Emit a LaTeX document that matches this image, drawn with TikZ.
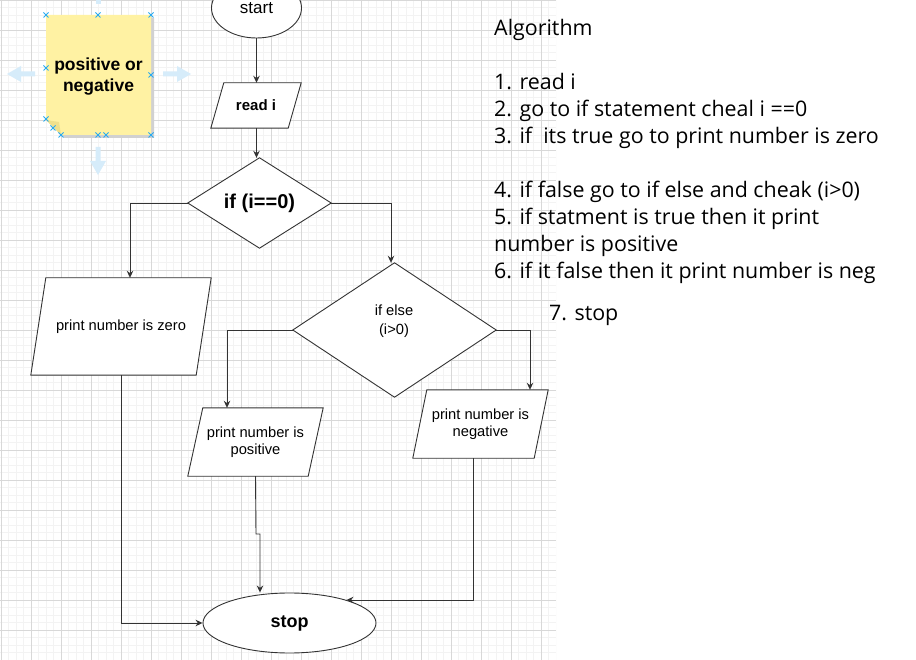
\documentclass[tikz,border=0pt]{standalone}
\usepackage{fontspec}
\setmainfont{Liberation Sans}
\newfontfamily\algfont{Open Sans}
\usetikzlibrary{shapes.geometric,arrows.meta,calc}
\pgfdeclarelayer{gridlayer}
\pgfdeclarelayer{shapelayer}
\pgfsetlayers{gridlayer,shapelayer,main}
\definecolor{gridmaj}{RGB}{216,216,216}
\definecolor{gridmin}{RGB}{243,243,243}
\definecolor{stroke}{RGB}{51,51,51}
\definecolor{notefill}{RGB}{255,242,163}
\definecolor{notefold}{RGB}{240,224,140}
\definecolor{handleblue}{RGB}{41,170,240}
\definecolor{hintblue}{RGB}{214,236,250}
\tikzset{
  box/.style={draw=none, rectangle, inner sep=0pt, align=center},
  outline/.style={draw=stroke, line width=0.9pt, fill=white},
  conn/.style={draw=stroke, line width=0.9pt, -{Stealth[length=7pt,width=6.5pt]}},
  normaltext/.style={font=\fontsize{14.7}{17.5}\selectfont},
  boldtext/.style={font=\bfseries\fontsize{18}{21}\selectfont},
  algtext/.style={anchor=base west, inner sep=0pt, font=\algfont\fontsize{21.4}{25}\selectfont},
  handlex/.style={draw=handleblue, line width=0.8pt},
  hint/.style={fill=hintblue, draw=none}
}
\begin{document}
\begin{tikzpicture}[x=1pt,y=-1pt]
\useasboundingbox (0,0) rectangle (916,660);

% background and grid
\begin{pgfonlayer}{gridlayer}
\fill[white] (0,0) rectangle (916,660);
\begin{scope}
\clip (0,0) rectangle (556,660);
\foreach \i in {0,...,75} \draw[gridmin, line width=0.8pt] ({1+7.5*\i},0) -- ({1+7.5*\i},660);
\foreach \j in {0,...,88} \draw[gridmin, line width=0.8pt] (0,{7.5*\j}) -- (556,{7.5*\j});
\foreach \i in {0,...,18} \draw[gridmaj, line width=0.8pt] ({1+30*\i},0) -- ({1+30*\i},660);
\foreach \j in {0,...,22} \draw[gridmaj, line width=0.8pt] (0,{30*\j}) -- (556,{30*\j});
\end{scope}
\end{pgfonlayer}

% sticky note
\fill[black!18] (49,18) -- (154,18) -- (154,138) -- (64,138) -- (49,123) -- cycle;
\fill[notefill] (46,15) -- (151,15) -- (151,135) -- (61,135) -- (46,120) -- cycle;
\fill[notefold] (46,120) -- (61,135) -- (59,122) -- cycle;
\node[box, font=\bfseries\fontsize{17.5}{21}\selectfont] (note) at (98.5,77) {positive or\\negative};
% selection handles
\foreach \p in {(46,15),(98,15),(151,15),(46,68),(151,75),(46,119),(53,128),(61,135),(98,135),(106,135),(151,135)}
  \draw[handlex] \p ++(-2.5,-2.5) -- ++(5,5) \p ++(-2.5,2.5) -- ++(5,-5);
% hint arrows
\fill[hint] (35,71.5) -- (21,71.5) -- (21,66) -- (7,74) -- (21,82) -- (21,76.5) -- (35,76.5) -- cycle;
\fill[hint] (163,71.5) -- (177,71.5) -- (177,66) -- (191,74) -- (177,82) -- (177,76.5) -- (163,76.5) -- cycle;
\fill[hint] (95.5,147) -- (95.5,161) -- (90,161) -- (98,175) -- (106,161) -- (100.5,161) -- (100.5,147) -- cycle;
\fill[hint] (95.5,0) rectangle (100.5,4);

% nodes
\node[draw=stroke, line width=0.9pt, fill=white, ellipse, inner sep=0pt, minimum width=90, minimum height=60, font=\fontsize{17}{20}\selectfont] (start) at (256.5,8) {start};
\node[box, minimum width=90, minimum height=45, font=\bfseries\fontsize{15}{18}\selectfont] (readi) at (256,105.5) {read i};
\node[box, minimum width=143, minimum height=90, font=\bfseries\fontsize{20}{24}\selectfont] (d1) at (259.5,203) {if (i==0)};
\node[box, minimum width=180, minimum height=97, normaltext] (pz) at (121,326.5) {print number is zero};
\node[box, minimum width=203, minimum height=134] (d2) at (394.5,330) {};
\node[box, font=\fontsize{14.7}{19}\selectfont] (d2text) at (394,321.5) {if else\\(i>0)};
\node[box, minimum width=135, minimum height=68, normaltext] (ppos) at (255.5,442) {print number is\\positive};
\node[box, minimum width=135, minimum height=68, normaltext] (pneg) at (480.5,424) {print number is\\negative};
\node[draw=stroke, line width=0.9pt, fill=white, ellipse, inner sep=0pt, minimum width=173, minimum height=60, boldtext] (stop) at (289.5,623) {stop};

% shapes behind the texts
\begin{pgfonlayer}{shapelayer}
\draw[outline] ([xshift=13]readi.north west) -- (readi.north east) -- ([xshift=-13]readi.south east) -- (readi.south west) -- cycle;
\draw[outline] (d1.north) -- (d1.east) -- (d1.south) -- (d1.west) -- cycle;
\draw[outline] ([xshift=15]pz.north west) -- (pz.north east) -- ([xshift=-15]pz.south east) -- (pz.south west) -- cycle;
\draw[outline] (d2.north) -- (d2.east) -- (d2.south) -- (d2.west) -- cycle;
\draw[outline] ([xshift=15]ppos.north west) -- (ppos.north east) -- ([xshift=-15]ppos.south east) -- (ppos.south west) -- cycle;
\draw[outline] ([xshift=14]pneg.north west) -- (pneg.north east) -- ([xshift=-14]pneg.south east) -- (pneg.south west) -- cycle;
\end{pgfonlayer}

% connectors
\coordinate (j1) at (256,534);
\coordinate (j2) at (260,534);
\draw[conn] (start.south) -- (start.south |- readi.north);
\draw[conn] ([xshift=0.5]readi.south) -- ([xshift=0.5]readi.south |- d1.north);
\draw[conn] (d1.west) -| ([xshift=9]pz.north);
\draw[conn] (d1.east) -| ([xshift=-3.5]d2.north);
\draw[conn] (d2.west) -| ([xshift=-28.5]ppos.north);
\draw[conn] (d2.east) -| ([xshift=49.5]pneg.north);
\draw[conn] (pz.south) |- (stop.west);
\draw[conn] (ppos.south) -- (j1) -- (j2) -- ([xshift=-29.5]stop.north);
\draw[conn] ([xshift=-7]pneg.south) |- (stop.22.5);

% algorithm text
\node[algtext] (alg0) at (494,36) {Algorithm};
\node[algtext] (alg1) at (494,90) {1. read i};
\node[algtext] (alg2) at (494,117) {2. go to if statement cheal i ==0};
\node[algtext] (alg3) at (494,144) {3. if~ its true go to print number is zero};
\node[algtext] (alg4) at (494,198) {4. if false go to if else and cheak (i>0)};
\node[algtext] (alg5) at (494,225) {5. if statment is true then it print};
\node[algtext] (alg6) at (494,252) {number is positive};
\node[algtext] (alg7) at (494,279) {6. if it false then it print number is neg};
\node[algtext] (alg8) at (549,321) {7. stop};
\end{tikzpicture}
\end{document}
